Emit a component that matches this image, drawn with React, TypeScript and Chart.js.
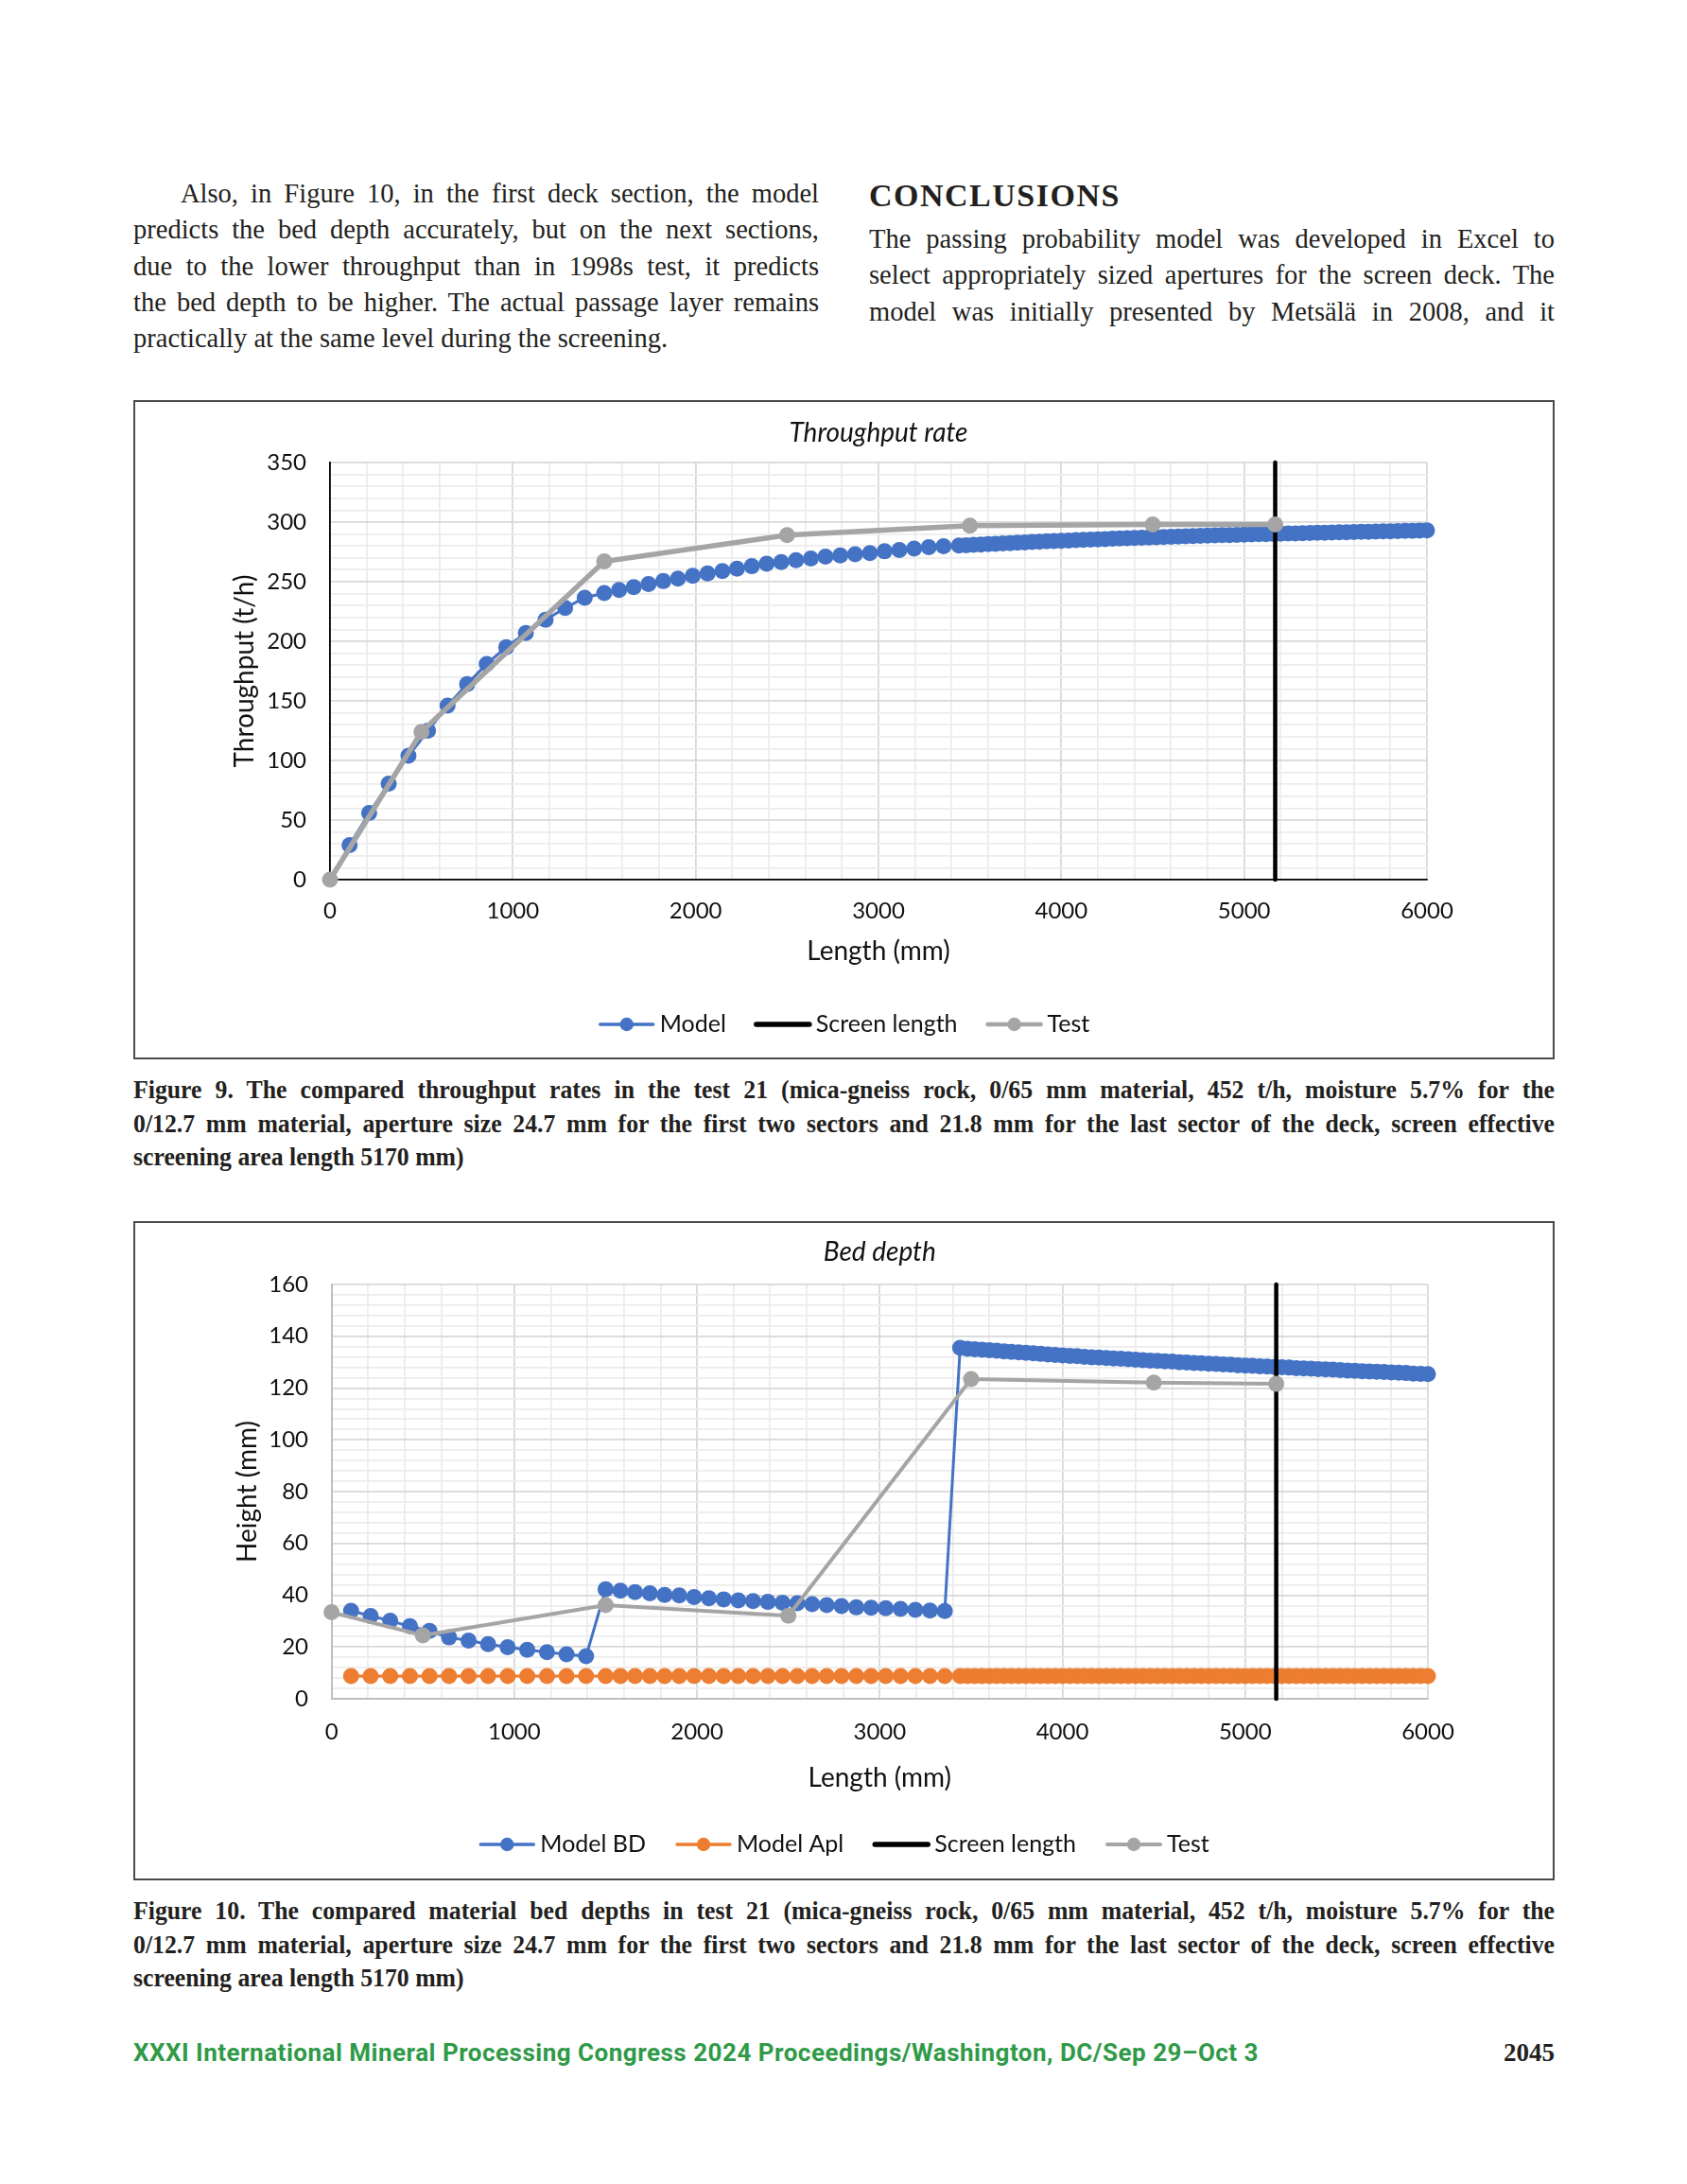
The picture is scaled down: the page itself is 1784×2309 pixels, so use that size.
import React, { useEffect, useRef } from 'react';
import { Chart, registerables } from 'chart.js';

Chart.register(...registerables);

// ---------- data ----------
const SEC1_X = [107, 214, 321, 429, 536, 643, 750, 857, 964, 1071, 1179, 1286, 1393, 1500];
const SEC2_X = [1581, 1661, 1742, 1823, 1903, 1984, 2065, 2146, 2226, 2307, 2388, 2468, 2549, 2630, 2710, 2791, 2872, 2953, 3033, 3114, 3195, 3275, 3356];
const SEC3_X = [3440, 3480, 3520, 3560, 3600, 3640, 3680, 3720, 3760, 3800, 3840, 3880, 3920, 3960,
  4000, 4040, 4080, 4120, 4160, 4200, 4240, 4280, 4320, 4360, 4400, 4440, 4480, 4520, 4560, 4600, 4640, 4680, 4720, 4760, 4800, 4840, 4880, 4920, 4960,
  5000, 5040, 5080, 5120, 5160, 5200, 5240, 5280, 5320, 5360, 5400, 5440, 5480, 5520, 5560, 5600, 5640, 5680, 5720, 5760, 5800, 5840, 5880, 5920, 5960,
  6000];

const TP_SEC1 = [29, 56, 80.5, 104, 125, 146, 164, 181, 195, 207, 218, 228, 236.5, 240.5];
const TP_SEC2 = [243, 245.5, 248, 250.5, 252.5, 255, 257, 259, 261, 263, 265, 266.5, 268, 269.5, 271, 272, 273, 274, 275.5, 276.6, 277.7, 278.9, 279.7];
const TP_SEC3 = [280.3, 280.6, 280.9, 281.2, 281.5, 281.8, 282.1, 282.4, 282.7, 283.0, 283.3, 283.6, 283.9, 284.1,
  284.4, 284.6, 284.9, 285.1, 285.4, 285.6, 285.8, 286.1, 286.3, 286.5, 286.7, 286.9, 287.1, 287.3, 287.5, 287.7, 287.9, 288.1, 288.3, 288.5, 288.6, 288.8, 289.0, 289.1, 289.3,
  289.4, 289.6, 289.8, 289.9, 290.1, 290.2, 290.4, 290.5, 290.7, 290.8, 291.0, 291.1, 291.3, 291.4, 291.5, 291.7, 291.8, 291.9, 292.1, 292.2, 292.3, 292.5, 292.6, 292.7, 292.8,
  293.0];

const BD_SEC1 = [34.0, 32.0, 30.1, 28.0, 26.2, 23.7, 22.5, 21.1, 19.9, 18.9, 18.0, 17.2, 16.4, 42.3];
const BD_SEC2 = [41.7, 41.2, 40.7, 40.1, 39.9, 39.3, 38.8, 38.4, 38.0, 37.7, 37.4, 37.1, 36.9, 36.5, 36.2, 35.8, 35.3, 35.2, 35.0, 34.7, 34.3, 34.1, 33.9];
const BD_SEC3 = [135.5, 135.2, 135.0, 134.8, 134.6, 134.4, 134.2, 134.0, 133.8, 133.6, 133.4, 133.2, 133.0, 132.8,
  132.6, 132.4, 132.3, 132.1, 131.9, 131.8, 131.6, 131.4, 131.3, 131.1, 131.0, 130.8, 130.6, 130.5, 130.3, 130.2, 130.0, 129.9, 129.7, 129.6, 129.4, 129.3, 129.1, 129.0, 128.8,
  128.7, 128.6, 128.4, 128.3, 128.1, 128.0, 127.9, 127.7, 127.6, 127.5, 127.3, 127.2, 127.1, 126.9, 126.8, 126.7, 126.5, 126.4, 126.3, 126.2, 126.0, 125.9, 125.8, 125.6, 125.5,
  125.4];

const APL_SEC1 = [8.8, 8.8, 8.8, 8.8, 8.8, 8.8, 8.8, 8.8, 8.8, 8.8, 8.8, 8.8, 8.8, 8.8];
const APL_SEC2 = [8.8, 8.8, 8.8, 8.8, 8.8, 8.8, 8.8, 8.8, 8.8, 8.8, 8.8, 8.8, 8.8, 8.8, 8.8, 8.8, 8.8, 8.8, 8.8, 8.8, 8.8, 8.8, 8.8];
const APL_SEC3 = [8.8, 8.8, 8.8, 8.8, 8.8, 8.8, 8.8, 8.8, 8.8, 8.8, 8.8, 8.8, 8.8, 8.8,
  8.8, 8.8, 8.8, 8.8, 8.8, 8.8, 8.8, 8.8, 8.8, 8.8, 8.8, 8.8, 8.8, 8.8, 8.8, 8.8, 8.8, 8.8, 8.8, 8.8, 8.8, 8.8, 8.8, 8.8, 8.8,
  8.8, 8.8, 8.8, 8.8, 8.8, 8.8, 8.8, 8.8, 8.8, 8.8, 8.8, 8.8, 8.8, 8.8, 8.8, 8.8, 8.8, 8.8, 8.8, 8.8, 8.8, 8.8, 8.8, 8.8, 8.8,
  8.8];

const TEST_X = [0, 500, 1500, 2500, 3500, 4500, 5170];
const TP_TEST = [0, 124, 267, 289, 297, 298, 298];
const BD_TEST = [33.4, 24.5, 36.2, 32.1, 123.5, 122.1, 121.6];

const SCREEN_LENGTH = 5170;
const X_MAX = 6000;
const TP_Y_MAX = 350;
const BD_Y_MAX = 160;

// ---------- styling ----------
const BLUE = '#4472C4';
const ORANGE = '#ED7D31';
const GRAY = '#A5A5A5';
const MAJOR = '#d9d9d9';
const MINOR = '#ececec';
const FONT = 'Lato';
const TXT = '#111111';
const MARKER_R = 8.5;

const pts = (xs: number[], ys: number[]) => xs.map((x, i) => ({ x, y: ys[i] }));

type Spec = {
  title: string;
  yTitle: string;
  yMax: number;
  yMinor: number;
  yMajor: number;
  axisColor: string;
  axisWidth: number;
  datasets: any[];
  pad: { left: number; right: number; top: number; bottom: number };
  yAxisWidth: number;
  xAxisHeight: number;
  yTitlePad: number;
  xTitlePad: number;
  xTickPad: number;
  yTickPad: number;
  titleY: number;
  legendY: number;
  legendGap: number;
};

function buildConfig(s: Spec): any {
  const titlePlugin = {
    id: 'plotTitle',
    afterDraw(chart: any) {
      const { ctx, chartArea } = chart;
      ctx.save();
      ctx.font = `italic 28px ${FONT}`;
      ctx.fillStyle = TXT;
      ctx.textAlign = 'center';
      ctx.textBaseline = 'middle';
      ctx.fillText(s.title, (chartArea.left + chartArea.right) / 2, s.titleY);
      ctx.restore();
    },
  };
  const legendPlugin = {
    id: 'excelLegend',
    afterDraw(chart: any) {
      const { ctx } = chart;
      ctx.save();
      ctx.font = `25px ${FONT}`;
      const sym = 60;
      const gap = 5;
      const items = chart.data.datasets.map((ds: any) => ({ ds, w: sym + gap + ctx.measureText(ds.label).width }));
      const total = items.reduce((a: number, it: any) => a + it.w, 0) + s.legendGap * (items.length - 1);
      let x = chart.width / 2 - total / 2;
      const y = s.legendY;
      for (const { ds, w } of items) {
        ctx.strokeStyle = ds.borderColor;
        ctx.lineWidth = ds.legendLineWidth;
        ctx.lineCap = 'round';
        ctx.beginPath();
        ctx.moveTo(x + 2, y);
        ctx.lineTo(x + sym - 2, y);
        ctx.stroke();
        if (ds.pointRadius > 0) {
          ctx.fillStyle = ds.backgroundColor;
          ctx.beginPath();
          ctx.arc(x + sym / 2, y, 7.2, 0, Math.PI * 2);
          ctx.fill();
        }
        ctx.fillStyle = TXT;
        ctx.textAlign = 'left';
        ctx.textBaseline = 'middle';
        ctx.fillText(ds.label, x + sym + gap, y);
        x += w + s.legendGap;
      }
      ctx.restore();
    },
  };

  return {
    type: 'scatter',
    data: { datasets: s.datasets },
    plugins: [titlePlugin, legendPlugin],
    options: {
      responsive: false,
      animation: false,
      devicePixelRatio: 1,
      events: [],
      layout: { padding: s.pad },
      plugins: { legend: { display: false }, tooltip: { enabled: false }, title: { display: false } },
      scales: {
        x: {
          type: 'linear',
          min: 0,
          max: X_MAX,
          afterFit: (sc: any) => { sc.height = s.xAxisHeight; },
          ticks: {
            stepSize: 200,
            autoSkip: false,
            maxRotation: 0,
            padding: s.xTickPad,
            color: TXT,
            font: { family: FONT, size: 24 },
            callback: (v: any) => (Number(v) % 1000 === 0 ? String(v) : ''),
          },
          grid: {
            color: (c: any) => (c.tick && c.tick.value % 1000 === 0 ? MAJOR : MINOR),
            lineWidth: 1.8,
            drawTicks: false,
          },
          border: { display: true, color: s.axisColor, width: s.axisWidth },
          title: { display: true, text: 'Length (mm)', color: TXT, font: { family: FONT, size: 28 }, padding: { top: 0, bottom: s.xTitlePad } },
        },
        y: {
          type: 'linear',
          min: 0,
          max: s.yMax,
          afterFit: (sc: any) => { sc.width = s.yAxisWidth; },
          ticks: {
            stepSize: s.yMinor,
            autoSkip: false,
            padding: s.yTickPad,
            color: TXT,
            font: { family: FONT, size: 24 },
            callback: (v: any) => (Number(v) % s.yMajor === 0 ? String(v) : ''),
          },
          grid: {
            color: (c: any) => (c.tick && c.tick.value % s.yMajor === 0 ? MAJOR : MINOR),
            lineWidth: 1.8,
            drawTicks: false,
          },
          border: { display: true, color: s.axisColor, width: s.axisWidth },
          title: { display: true, text: s.yTitle, color: TXT, font: { family: FONT, size: 28 }, padding: { top: s.yTitlePad, bottom: 0 } },
        },
      },
    },
  };
}

const marker = (label: string, color: string, data: any[], lineW: number, order: number, legendW: number) => ({
  label,
  data,
  showLine: true,
  borderColor: color,
  backgroundColor: color,
  borderWidth: lineW,
  pointRadius: MARKER_R,
  pointBorderWidth: 0,
  pointBorderColor: color,
  pointHoverRadius: MARKER_R,
  order,
  clip: false,
  legendLineWidth: legendW,
});

const screenLine = (yMax: number, order: number) => ({
  label: 'Screen length',
  data: [{ x: SCREEN_LENGTH, y: 0 }, { x: SCREEN_LENGTH, y: yMax }],
  showLine: true,
  borderColor: '#000000',
  backgroundColor: '#000000',
  borderWidth: 4.5,
  borderCapStyle: 'round',
  pointRadius: 0,
  pointHoverRadius: 0,
  order,
  clip: false,
  legendLineWidth: 5.5,
});

const LENGTH_X = [...SEC1_X, ...SEC2_X, ...SEC3_X];

const throughputSpec: Spec = {
  title: 'Throughput rate',
  yTitle: 'Throughput (t/h)',
  yMax: TP_Y_MAX,
  yMinor: 10,
  yMajor: 50,
  axisColor: '#000000',
  axisWidth: 1.8,
  datasets: [
    marker('Model', BLUE, pts(LENGTH_X, [...TP_SEC1, ...TP_SEC2, ...TP_SEC3]), 3, 3, 3.5),
    screenLine(TP_Y_MAX, 2),
    marker('Test', GRAY, pts(TEST_X, TP_TEST), 5.5, 1, 4.5),
  ],
  pad: { left: 80, right: 133, top: 64, bottom: 95.2 },
  yAxisWidth: 126,
  xAxisHeight: 92.8,
  yTitlePad: 19.2,
  xTitlePad: 0,
  xTickPad: 18.6,
  yTickPad: 25,
  titleY: 33,
  legendY: 658,
  legendGap: 30,
};

const bedSpec: Spec = {
  title: 'Bed depth',
  yTitle: 'Height (mm)',
  yMax: BD_Y_MAX,
  yMinor: 4,
  yMajor: 20,
  axisColor: '#bfbfbf',
  axisWidth: 2,
  datasets: [
    marker('Model BD', BLUE, pts(LENGTH_X, [...BD_SEC1, ...BD_SEC2, ...BD_SEC3]), 3, 4, 3.5),
    marker('Model Apl', ORANGE, pts(LENGTH_X, [...APL_SEC1, ...APL_SEC2, ...APL_SEC3]), 3, 3, 3.5),
    screenLine(BD_Y_MAX, 2),
    marker('Test', GRAY, pts(TEST_X, BD_TEST), 4, 1, 4),
  ],
  pad: { left: 82, right: 132, top: 65, bottom: 89.2 },
  yAxisWidth: 125.6,
  xAxisHeight: 100.8,
  yTitlePad: 20.2,
  xTitlePad: 0,
  xTickPad: 20.6,
  yTickPad: 24.6,
  titleY: 31,
  legendY: 657,
  legendGap: 31,
};

function ChartBox({ spec, top }: { spec: Spec; top: number }) {
  const ref = useRef<HTMLCanvasElement>(null);
  useEffect(() => {
    const chart = new Chart(ref.current as HTMLCanvasElement, buildConfig(spec));
    return () => chart.destroy();
  }, []);
  return (
    <div style={{ position: 'absolute', left: 141, top, width: 1499, height: 693, border: '2px solid #4a4a4a' }}>
      <canvas ref={ref} width={1499} height={693} style={{ display: 'block', width: 1499, height: 693 }} />
    </div>
  );
}

// Justified lines, horizontally condensed to mimic the narrow book face of the page.
function Lines({ lines, left, top, width, size, lh, bold, lastJustify, indent, squeeze }: any) {
  const k = squeeze || 1;
  return (
    <div
      style={{
        position: 'absolute',
        left,
        top,
        width: width / k,
        fontSize: size,
        lineHeight: lh + 'px',
        fontWeight: bold ? 700 : 400,
        transform: `scaleX(${k})`,
        transformOrigin: '0 0',
      }}
    >
      {lines.map((t: string, i: number) => (
        <div
          key={i}
          style={{
            textAlign: 'justify',
            textAlignLast: i < lines.length - 1 || lastJustify ? 'justify' : 'left',
            textIndent: i === 0 && indent ? indent / k : 0,
          }}
        >
          {t}
        </div>
      ))}
    </div>
  );
}

const LEFT_PARA = [
  'Also, in Figure 10, in the first deck section, the model',
  'predicts the bed depth accurately, but on the next sections,',
  'due to the lower throughput than in 1998s test, it predicts',
  'the bed depth to be higher. The actual passage layer remains',
  'practically at the same level during the screening.',
];
const RIGHT_PARA = [
  'The passing probability model was developed in Excel to',
  'select appropriately sized apertures for the screen deck. The',
  'model was initially presented by Metsälä in 2008, and it',
];
const CAP9 = [
  'Figure 9. The compared throughput rates in the test 21 (mica-gneiss rock, 0/65 mm material, 452 t/h, moisture 5.7% for the',
  '0/12.7 mm material, aperture size 24.7 mm for the first two sectors and 21.8 mm for the last sector of the deck, screen effective',
  'screening area length 5170 mm)',
];
const CAP10 = [
  'Figure 10.  The compared material bed depths in test 21 (mica-gneiss rock, 0/65 mm material, 452 t/h, moisture 5.7% for the',
  '0/12.7 mm material, aperture size 24.7 mm for the first two sectors and 21.8 mm for the last sector of the deck, screen effective',
  'screening area length 5170 mm)',
];

export default function App() {
  return (
    <div
      style={{
        position: 'absolute',
        left: 0,
        top: 0,
        width: 1784,
        height: 2309,
        background: '#ffffff',
        fontFamily: '"Liberation Serif", serif',
        color: '#231f20',
        overflow: 'hidden',
      }}
    >
      <Lines lines={LEFT_PARA} left={141} top={185} width={725} size={30} lh={38.3} indent={50} squeeze={0.95} />
      <div style={{ position: 'absolute', left: 919, top: 187, fontSize: 34, lineHeight: '40px', fontWeight: 700, letterSpacing: 1.5 }}>CONCLUSIONS</div>
      <Lines lines={RIGHT_PARA} left={919} top={233} width={725} size={30} lh={38.3} lastJustify squeeze={0.95} />

      <ChartBox spec={throughputSpec} top={423} />
      <Lines lines={CAP9} left={141} top={1134} width={1503} size={28} lh={35.5} bold squeeze={0.92} />

      <ChartBox spec={bedSpec} top={1291} />
      <Lines lines={CAP10} left={141} top={2002} width={1503} size={28} lh={35.5} bold squeeze={0.92} />

      <div style={{ position: 'absolute', left: 141, top: 2155, fontFamily: 'Roboto, sans-serif', fontWeight: 700, fontSize: 26, lineHeight: '30px', letterSpacing: 0.5, color: '#2f9a48' }}>
        XXXI International Mineral Processing Congress 2024 Proceedings/Washington, DC/Sep 29–Oct 3
      </div>
      <div style={{ position: 'absolute', right: 1784 - 1644, top: 2154, fontWeight: 700, fontSize: 27, lineHeight: '32px' }}>2045</div>
    </div>
  );
}
